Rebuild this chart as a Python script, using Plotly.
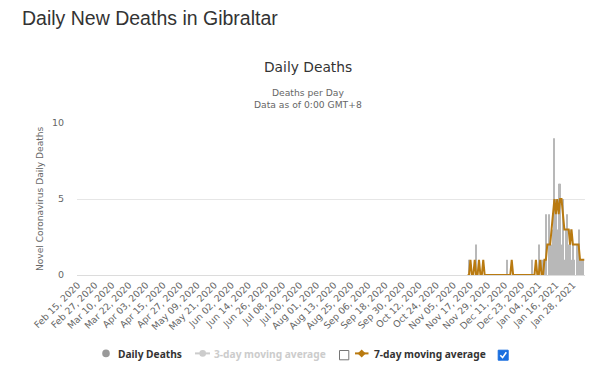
import pandas as pd
import plotly.graph_objects as go

# ---------------- data ----------------
dates = pd.date_range("2020-02-15", periods=357, freq="D")
categories = [d.strftime("%b %d, %Y") for d in dates]
tick_labels = categories[::12]

# daily deaths: zero until mid-November 2020, then values
daily_head = [0] * 270
daily_tail = [
    0, 0, 0, 0, 0, 1, 0, 0, 0, 0,          # 270-279
    2, 0, 0, 0, 0, 0, 0, 0, 0, 0,          # 280-289
    0, 0, 0, 0, 0, 0, 0, 0, 0, 0,          # 290-299
    0, 0, 1, 0, 0, 0, 0, 0, 0, 0,          # 300-309
    0, 0, 0, 0, 0, 0, 0, 0, 0, 1,          # 310-319
    0, 0, 0, 0, 2, 0, 1, 0, 1, 4,          # 320-329
    0, 4, 1, 2, 3, 9, 5, 3, 6, 6,          # 330-339
    2, 5, 1, 3, 4, 2, 3, 1, 2, 1,          # 340-349
    0, 2, 3, 1, 1, 1, 0,                   # 350-356
]
daily_deaths = daily_head + daily_tail

# 7-day moving average (series only starts in November)
ma7_head = [None] * 274
ma7_tail = [
    0, 0, 1, 0, 0, 1, 0, 0, 1, 0, 0, 1,    # 274-285
    0, 0, 0, 0, 0, 0, 0, 0, 0, 0,          # 286-295
    0, 0, 0, 0, 0, 0, 0, 0, 0, 1,          # 296-305
    0, 0, 0, 0, 0, 0, 0, 0, 0, 0,          # 306-315
    0, 0, 0, 0, 0, 0, 1, 0, 0, 1,          # 316-325
    0, 0, 1, 1, 2, 2, 2, 3, 4, 5,          # 326-335
    4, 5, 4, 5, 5, 4, 3, 3, 3, 3,          # 336-345
    2, 3, 2, 2, 2, 2, 2, 1, 1, 1, 1,       # 346-356
]
ma7 = ma7_head + ma7_tail

y_ticks = [0, 5, 10]

# ---------------- layout helpers ----------------
# the page body has an 8px margin, so the figure is 8px smaller than the window
OFF = 8
W, H = 610 - OFF, 388 - OFF
PL, PT, PW, PH = 77, 123, 508, 152          # plot area in window pixels


def px(x):
    return (x - PL) / PW


def py(y):
    return (PT + PH - y) / PH


ORANGE = "#b97a10"
GREY_TXT = "#666666"

fig = go.Figure()
fig.add_trace(go.Bar(
    x=categories, y=daily_deaths, name="Daily Deaths",
    marker=dict(color="#b8b8b8", line=dict(width=0)),
    hoverinfo="x+y",
))
fig.add_trace(go.Scatter(
    x=categories, y=ma7, name="7-day moving average", mode="lines",
    line=dict(color=ORANGE, width=2), connectgaps=False,
))

fig.update_layout(
    width=W, height=H,
    margin=dict(l=PL - OFF, r=610 - PL - PW, t=PT - OFF, b=388 - PT - PH, autoexpand=False),
    paper_bgcolor="white", plot_bgcolor="white",
    showlegend=False, bargap=0.2,
    font=dict(family="DejaVu Sans", color=GREY_TXT),
)
fig.update_xaxes(
    type="category", range=[-0.5, len(categories) - 0.5],
    tickmode="array", tickvals=tick_labels, ticktext=tick_labels,
    tickangle=-45, tickfont=dict(family="DejaVu Sans", size=9.3, color=GREY_TXT),
    showgrid=False, showline=True, linecolor="#dcdcdc", linewidth=1,
    ticks="", zeroline=False, automargin=False,
)
fig.update_yaxes(
    range=[0, 10], tickmode="array", tickvals=y_ticks,
    tickfont=dict(family="DejaVu Sans", size=9.5, color=GREY_TXT),
    showgrid=True, gridcolor="#e6e6e6", gridwidth=1, zeroline=False,
    showline=False, ticks="", ticklabelstandoff=12, automargin=False,
)


def note(text, x, y, size, color, family="DejaVu Sans", xanchor="center", angle=0):
    return dict(text=text, x=px(x), y=py(y), xref="paper", yref="paper",
                xanchor=xanchor, yanchor="middle", showarrow=False, textangle=angle,
                font=dict(family=family, size=size, color=color))


ann = [
    note("Daily New Deaths in Gibraltar", 19.5, 18, 19.5, "#333333",
         family="Liberation Sans", xanchor="left"),
    note("Daily Deaths", 308, 67, 13.8, "#333333"),
    note("Deaths per Day", 308, 92.5, 9.2, GREY_TXT),
    note("Data as of 0:00 GMT+8", 308, 104.5, 9.2, GREY_TXT),
    note("Novel Coronavirus Daily Deaths", 40, 199, 9.1, GREY_TXT, angle=-90),
]
LEG_Y = 353.5
ann += [
    note("<b>Daily Deaths</b>", 115.5, LEG_Y, 10.2, "#333333", family="Noto Sans", xanchor="left"),
    note("<b>3-day moving average</b>", 211.5, LEG_Y, 10.2, "#cccccc", family="Noto Sans", xanchor="left"),
    note("<b>7-day moving average</b>", 371.5, LEG_Y, 10.2, "#333333", family="Noto Sans", xanchor="left"),
]

shapes = []
# Daily Deaths symbol
shapes.append(dict(type="circle", xref="paper", yref="paper",
                   x0=px(102.2), x1=px(109.8), y0=py(357.2), y1=py(349.6),
                   fillcolor="#999999", line=dict(width=0)))
# 3-day symbol
shapes.append(dict(type="line", xref="paper", yref="paper",
                   x0=px(195), x1=px(210), y0=py(353.4), y1=py(353.4),
                   line=dict(color="#cccccc", width=2)))
shapes.append(dict(type="circle", xref="paper", yref="paper",
                   x0=px(199.4), x1=px(206), y0=py(356.7), y1=py(350.1),
                   fillcolor="#cccccc", line=dict(width=0)))
# unchecked box
shapes.append(dict(type="rect", xref="paper", yref="paper",
                   x0=px(339.5), x1=px(348.8), y0=py(359.8), y1=py(350.5),
                   fillcolor="white", line=dict(color="#767676", width=1)))
# 7-day symbol
shapes.append(dict(type="line", xref="paper", yref="paper",
                   x0=px(355), x1=px(368.5), y0=py(353.4), y1=py(353.4),
                   line=dict(color=ORANGE, width=2)))
cx, cy, r = 361.7, 353.4, 4
shapes.append(dict(type="path", xref="paper", yref="paper",
                   path=(f"M{px(cx - r)},{py(cy)} L{px(cx)},{py(cy - r)} "
                         f"L{px(cx + r)},{py(cy)} L{px(cx)},{py(cy + r)} Z"),
                   fillcolor=ORANGE, line=dict(width=0)))
# checked box
shapes.append(dict(type="rect", xref="paper", yref="paper",
                   x0=px(498.2), x1=px(508.2), y0=py(360.2), y1=py(350.2),
                   fillcolor="#1a6fdf", line=dict(color="#1a6fdf", width=1)))
shapes.append(dict(type="path", xref="paper", yref="paper",
                   path=(f"M{px(500.3)},{py(355.2)} L{px(502.6)},{py(357.6)} "
                         f"L{px(506.3)},{py(352.2)}"),
                   line=dict(color="white", width=1.6)))

fig.update_layout(annotations=ann, shapes=shapes)
fig.write_html("out.html")
